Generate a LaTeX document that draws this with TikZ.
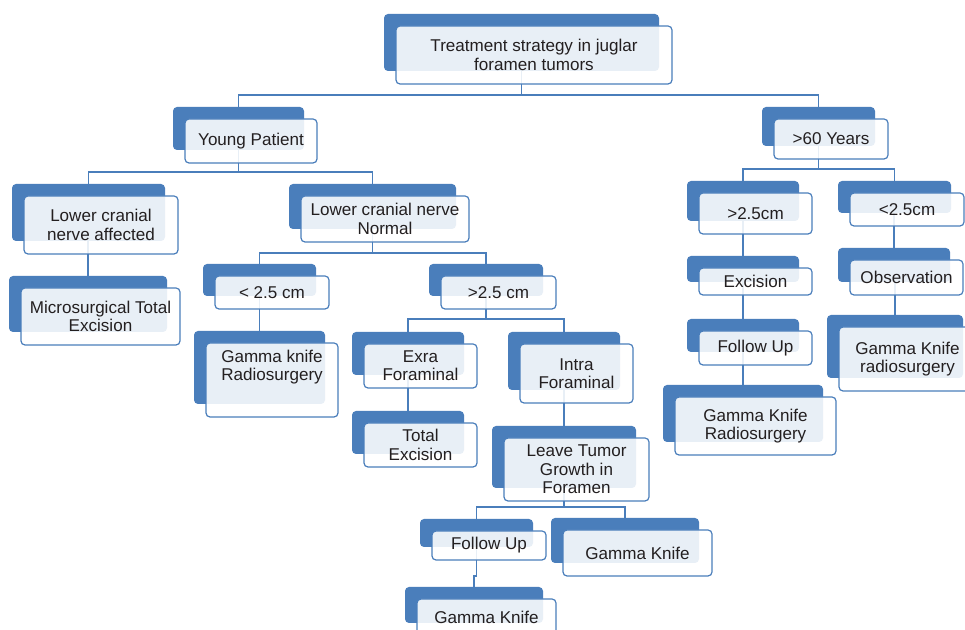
\documentclass[tikz,border=0pt]{standalone}
\usepackage{fontspec}
\setmainfont{Liberation Sans}
\usetikzlibrary{fit}
\pgfdeclarelayer{background}
\pgfsetlayers{background,main}
\definecolor{myblue}{RGB}{74,126,187}
\definecolor{txt}{RGB}{35,31,32}
\tikzset{
 backbox/.style={fill=myblue, draw=none, rounded corners=3pt, inner sep=0pt},
 frontbox/.style={fill=white, fill opacity=0.88, draw=myblue, line width=0.9pt, rounded corners=3pt, inner sep=0pt},
 lbl/.style={text=txt, align=center, inner sep=0pt, font=\fontsize{12.8pt}{13.8pt}\selectfont},
 conn/.style={draw=myblue, line width=1pt},
}
% #1 options for label, #2 name, #3-#6 back box corners (px), #7 text
\newcommand\elem[7][]{%
 \node[backbox, fit={(#3,#4) (#5,#6)}] (#2b) {};
 \node[frontbox, fit={(#3+12,#4+12) (#5+13,#6+13)}] (#2) {};
 \node[lbl,#1] (#2t) at (#2.center) {#7};
}
\newcommand\branch[3]{\draw[conn] (#1b.center) |- (#2b.north |- #3) -- (#2b.north);}
\newcommand\chain[2]{\draw[conn] (#2b.north |- #1b.center) -- (#2b.north);}
\begin{document}
\begin{tikzpicture}[x=0.75pt, y=-0.75pt]
\useasboundingbox (0,0) rectangle (965,630);
\clip (0,0) rectangle (965,630);
\elem{root}{384}{14}{659}{71}{Treatment strategy in juglar\\foramen tumors}
\elem{young}{173}{107}{304}{150}{Young Patient}
\elem{old}{762}{107}{875}{146}{>60 Years}
\elem{lcna}{12}{184}{165}{241}{Lower cranial\\nerve affected}
\elem{lcnn}{289}{184}{456}{229}{Lower cranial nerve\\Normal}
\elem{micro}{9}{276}{167}{332}{Microsurgical Total\\Excision}
\elem{lt}{203}{264}{316}{296}{< 2.5 cm}
\elem[yshift=9.75pt]{gkl}{194}{331}{325}{404}{Gamma knife\\Radiosurgery}
\elem{gt}{429}{264}{543}{296}{>2.5 cm}
\elem{exra}{352}{332}{464}{375}{Exra\\Foraminal}
\elem{intra}{508}{332}{620}{390}{Intra\\Foraminal}
\elem{total}{352}{411}{464}{454}{Total\\Excision}
\elem{leave}{492}{426}{636}{488}{Leave Tumor\\Growth in\\Foramen}
\elem{fua}{420}{519}{533}{547}{Follow Up}
\elem{gkb}{551}{518}{699}{563}{Gamma Knife}
\elem{gka}{405}{587}{543}{623}{Gamma Knife}
\elem{ogt}{687}{181}{799}{221}{>2.5cm}
\elem{olt}{838}{181}{951}{213}{<2.5cm}
\elem{exc}{687}{256}{799}{282}{Excision}
\elem{fub}{687}{319}{799}{352}{Follow Up}
\elem{gkr}{663}{385}{823}{442}{Gamma Knife\\Radiosurgery}
\elem{obs}{838}{248}{950}{282}{Observation}
\elem{gks}{827}{315}{963}{378}{Gamma Knife\\radiosurgery}
\coordinate (j1) at (0,95);
\coordinate (j2) at (0,172);
\coordinate (j3) at (0,169);
\coordinate (j4) at (0,253);
\coordinate (j5) at (0,319);
\coordinate (j6) at (0,507);
\coordinate (j7) at (0,576);
\begin{pgfonlayer}{background}
\fill[white] (0,0) rectangle (965,630);
\branch{root}{young}{j1}
\branch{root}{old}{j1}
\branch{young}{lcna}{j2}
\branch{young}{lcnn}{j2}
\chain{lcna}{micro}
\branch{lcnn}{lt}{j4}
\branch{lcnn}{gt}{j4}
\chain{lt}{gkl}
\branch{gt}{exra}{j5}
\branch{gt}{intra}{j5}
\chain{exra}{total}
\chain{intra}{leave}
\branch{leave}{fua}{j6}
\branch{leave}{gkb}{j6}
\branch{fua}{gka}{j7}
\branch{old}{ogt}{j3}
\branch{old}{olt}{j3}
\chain{ogt}{exc}
\chain{exc}{fub}
\chain{fub}{gkr}
\chain{olt}{obs}
\chain{obs}{gks}
\end{pgfonlayer}
\end{tikzpicture}
\end{document}
